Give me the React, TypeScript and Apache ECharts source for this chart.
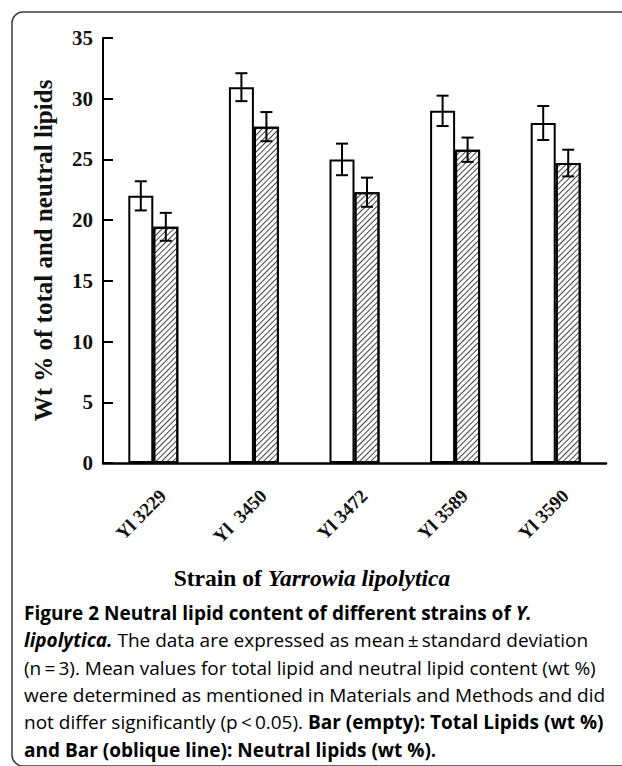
import React, { useEffect, useRef } from 'react';
import * as echarts from 'echarts';

const strains = ['Yl 3229', 'Yl\u00a0 3450', 'Yl 3472', 'Yl 3589', 'Yl 3590'];
const totalLipids = [22.0, 30.95, 25.0, 29.0, 28.0];
const totalSd = [1.2, 1.15, 1.3, 1.25, 1.4];
const neutralLipids = [19.45, 27.7, 22.3, 25.8, 24.7];
const neutralSd = [1.15, 1.2, 1.2, 1.0, 1.1];
const yMin = 0;
const yMax = 35;
const yStep = 5;

const yTitle = 'Wt % of total and neutral lipids';
const captionLines = [
  '{b|Figure 2 Neutral lipid content of different strains of }{bi|Y.}',
  '{bi|lipolytica.}{n| The data are expressed as mean\u2009±\u2009standard deviation}',
  '{n|(n\u2009=\u20093). Mean values for total lipid and neutral lipid content (wt %)}',
  '{n|were determined as mentioned in Materials and Methods and did}',
  '{n|not differ significantly (p\u2009<\u20090.05). }{b|Bar (empty): Total Lipids (wt %)}',
  '{b|and Bar (oblique line): Neutral lipids (wt %).}',
];

const SERIF = '"Liberation Serif", "Times New Roman", serif';
const SANS = '"Open Sans", "Noto Sans", sans-serif';

function errorSeries(means: number[], sds: number[], dx: number) {
  return {
    type: 'custom',
    silent: true,
    z: 10,
    data: means.map((m, i) => [i, m, sds[i]]),
    renderItem: (_params: any, api: any) => {
      const i = api.value(0);
      const m = api.value(1);
      const s = api.value(2);
      const top = api.coord([i, m + s]);
      const bot = api.coord([i, m - s]);
      const x = top[0] + dx;
      const cap = 6;
      const st = { stroke: '#000', lineWidth: 2 };
      return {
        type: 'group',
        children: [
          { type: 'line', shape: { x1: x, y1: top[1], x2: x, y2: bot[1] }, style: st },
          { type: 'line', shape: { x1: x - cap, y1: top[1], x2: x + cap, y2: top[1] }, style: st },
          { type: 'line', shape: { x1: x - cap, y1: bot[1], x2: x + cap, y2: bot[1] }, style: st },
        ],
      };
    },
  };
}

export default function App() {
  const ref = useRef<HTMLDivElement>(null);
  useEffect(() => {
    document.body.style.margin = '0';
    if (!ref.current) return;
    const chart = echarts.init(ref.current, null, { renderer: 'svg' });
    const fs = 19;
    const rich = {
      n: { fontFamily: SANS, fontSize: fs, color: '#58595b' },
      b: { fontFamily: SANS, fontSize: fs, fontWeight: 'bold', color: '#231f20' },
      bi: { fontFamily: SANS, fontSize: fs, fontWeight: 'bold', fontStyle: 'italic', color: '#231f20' },
    };
    chart.setOption({
      animation: false,
      backgroundColor: '#fff',
      grid: { left: 103, right: 16, top: 38, bottom: 303, containLabel: false },
      xAxis: {
        type: 'category',
        data: strains,
        axisLine: { lineStyle: { color: '#000', width: 2.5 } },
        axisTick: { alignWithLabel: true, length: 10, lineStyle: { color: '#000', width: 2 } },
        axisLabel: {
          interval: 0,
          rotate: 45,
          margin: 13,
          verticalAlign: 'top',
          padding: [9, 5, 0, 0],
          fontFamily: SERIF,
          fontWeight: 'bold',
          fontSize: 19,
          color: '#111',
        },
      },
      yAxis: {
        type: 'value',
        min: yMin,
        max: yMax,
        interval: yStep,
        name: yTitle,
        nameLocation: 'middle',
        nameGap: 47,
        nameTextStyle: { fontFamily: SERIF, fontWeight: 'bold', fontSize: 25, color: '#111' },
        axisLine: { show: true, lineStyle: { color: '#000', width: 2 } },
        axisTick: { show: true, inside: true, length: 10, lineStyle: { color: '#000', width: 2 } },
        splitLine: { show: false },
        axisLabel: { fontFamily: SERIF, fontWeight: 'bold', fontSize: 21, color: '#111', margin: 10 },
      },
      series: [
        {
          type: 'bar',
          name: 'Total Lipids (wt %)',
          data: totalLipids,
          barWidth: 25,
          barGap: '0%',
          itemStyle: { color: '#fff', borderColor: '#000', borderWidth: 2 },
        },
        {
          type: 'bar',
          name: 'Neutral lipids (wt %)',
          data: neutralLipids,
          barWidth: 25,
          barGap: '0%',
          itemStyle: {
            color: '#fff',
            borderColor: '#000',
            borderWidth: 2,
            decal: {
              symbol: 'rect',
              symbolSize: 1,
              dashArrayX: [1, 0],
              dashArrayY: [1, 3],
              rotation: -Math.PI / 4,
              color: '#444',
            },
          },
        },
        errorSeries(totalLipids, totalSd, -12.5),
        errorSeries(neutralLipids, neutralSd, 12.5),
      ],
      graphic: [
        {
          type: 'rect',
          shape: { x: 12, y: 12, width: 700, height: 754, r: 11 },
          style: { fill: 'none', stroke: '#3a3a3a', lineWidth: 1.5 },
          silent: true,
          z: -1,
        },
        {
          type: 'text',
          x: 312,
          y: 578,
          style: {
            text: '{a|Strain of }{b|Yarrowia lipolytica}',
            align: 'center',
            verticalAlign: 'middle',
            rich: {
              a: { fontFamily: SERIF, fontWeight: 'bold', fontSize: 23.5, color: '#111' },
              b: { fontFamily: SERIF, fontWeight: 'bold', fontStyle: 'italic', fontSize: 23.5, color: '#111' },
            },
          },
        },
        ...captionLines.map((t, k) => ({
          type: 'text',
          x: 24,
          y: 613 + k * 27.3,
          style: { text: t, align: 'left', verticalAlign: 'middle', rich },
        })),
      ],
    });
    return () => chart.dispose();
  }, []);
  return <div ref={ref} style={{ width: 622, height: 766 }} />;
}
